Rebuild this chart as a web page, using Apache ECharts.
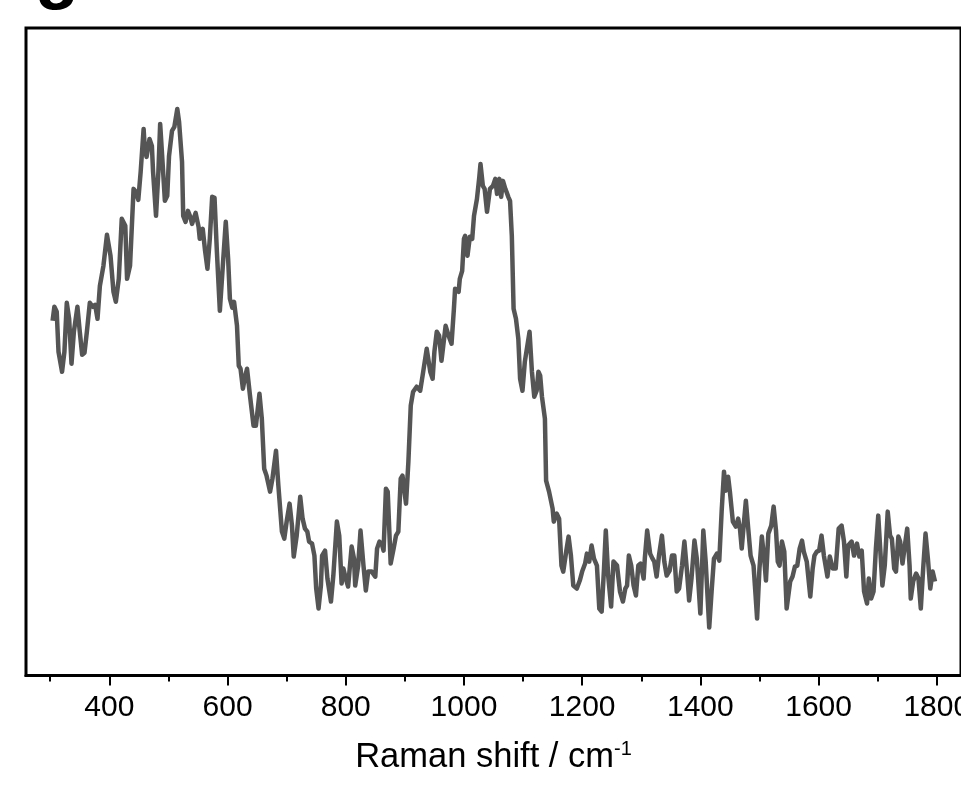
<!DOCTYPE html>
<html>
<head>
<meta charset="utf-8">
<script src="https://cdn.jsdelivr.net/npm/echarts@6/dist/echarts.min.js"></script>
<style>
html,body{margin:0;padding:0;background:#fff;}
#chart{width:961px;height:792px;}
</style>
</head>
<body>
<div id="chart"></div>
<script>
// Raman shift (cm-1)
var ramanShift = [
304,307,311,314,320,324,328,332,336,340,
346,350,354,358,362,367,372,376,380,384,
390,396,399,402,407,411,416,421,427,430,
435,441,445,449,453,458,460,463,468,472,
474,479,483,486,490,494,498,501,506,510,
515,518,523,525,529,533,537,540,546,551,
553,558,562,566,570,574,578,582,587,592,
597,601,604,608,611,616,619,622,626,630,
633,638,644,648,654,658,662,666,672,676,
682,686,692,696,700,705,709,712,717,723,
727,731,735,738,743,747,750,754,758,760,
765,769,775,779,785,789,793,796,800,804,
810,814,816,821,825,830,834,838,844,850,
853,857,861,864,868,871,876,881,885,889,
893,896,902,906,910,914,920,926,930,937,
943,947,950,954,958,962,965,969,974,979,
983,985,991,993,997,1000,1002,1006,1010,1014,
1017,1022,1026,1028,1032,1035,1039,1042,1044,1049,
1053,1056,1060,1063,1066,1070,1072,1075,1078,1081,
1084,1088,1092,1095,1099,1103,1111,1115,1119,1123,
1126,1129,1132,1137,1139,1144,1150,1152,1157,1161,
1165,1168,1173,1177,1181,1185,1191,1196,1200,1205,
1208,1212,1216,1220,1225,1229,1233,1237,1240,1244,
1249,1253,1259,1264,1269,1273,1276,1279,1283,1287,
1291,1295,1299,1304,1306,1310,1315,1319,1322,1326,
1330,1335,1339,1343,1348,1352,1356,1360,1364,1369,
1373,1377,1381,1385,1390,1394,1400,1405,1409,1415,
1419,1423,1428,1432,1436,1440,1443,1447,1450,1455,
1460,1464,1467,1470,1474,1477,1481,1485,1490,1493,
1496,1500,1504,1508,1511,1515,1520,1524,1528,1531,
1534,1538,1542,1546,1552,1556,1560,1564,1568,1572,
1575,1580,1586,1590,1593,1597,1601,1605,1609,1615,
1619,1624,1629,1634,1639,1643,1647,1650,1656,1660,
1665,1669,1673,1677,1682,1685,1689,1693,1697,1701,
1704,1708,1712,1717,1721,1724,1728,1731,1735,1738,
1742,1746,1750,1754,1756,1760,1765,1769,1773,1777,
1781,1785,1789,1793,1797
];
// Intensity (a.u.)
var intensity = [
355,369,364,324,304,324,373,357,312,344,
369,344,321,323,344,373,369,371,357,390,
410,441,442,420,384,374,397,457,450,397,
410,487,484,476,504,547,527,519,537,530,
504,460,504,552,514,475,480,520,545,549,
567,554,514,460,454,465,459,452,463,449,
437,447,425,407,437,479,478,424,365,410,
454,417,377,368,374,350,310,307,287,300,
307,280,250,250,282,257,207,200,184,197,
225,190,144,137,154,172,150,119,140,179,
157,147,144,134,132,120,87,67,90,120,
125,97,74,100,154,140,92,107,97,89,
129,117,90,110,145,110,85,104,104,99,
127,134,132,125,187,184,112,127,140,144,
197,200,172,214,270,284,289,285,300,327,
304,297,324,344,340,315,330,350,340,332,
367,387,384,397,405,437,440,420,439,437,
460,477,499,512,490,487,464,462,487,490,
497,482,497,479,495,487,484,479,475,440,
367,357,337,297,285,314,344,304,279,285,
304,300,279,257,195,184,167,154,162,157,
110,104,124,139,120,90,87,95,104,112,
122,114,130,117,110,67,64,107,145,100,
69,114,110,84,74,87,90,120,110,90,
80,110,112,97,117,145,122,117,114,99,
120,140,114,100,105,120,120,84,87,110,
134,107,75,97,135,117,62,145,114,48,
84,117,122,115,164,204,185,199,184,154,
149,157,147,127,155,175,147,120,110,84,
57,107,139,117,95,142,150,169,145,114,
110,134,124,67,94,99,109,110,127,135,
124,114,79,107,120,124,125,140,120,99,
119,107,107,147,150,134,99,130,134,120,
132,119,125,84,72,97,77,84,127,160,
130,90,110,164,140,137,107,104,139,134,
112,130,147,110,77,94,102,97,67,107,
142,117,87,104,94
];
var majorTicks = [400, 600, 800, 1000, 1200, 1400, 1600, 1800];
var minorTicks = [300, 500, 700, 900, 1100, 1300, 1500, 1700];
var xRange = [259, 1841];
var yRange = [0, 648];

var seriesData = ramanShift.map(function (x, i) { return [x, intensity[i]]; });

var chart = echarts.init(document.getElementById('chart'), null, {renderer: 'canvas'});
var FONT = '"Liberation Sans", Arial, Helvetica, sans-serif';
chart.setOption({
  animation: false,
  backgroundColor: '#ffffff',
  grid: {
    left: 26, right: 0, top: 28, bottom: 116.5,
    outerBoundsMode: 'none', containLabel: false,
    show: true, borderColor: '#000', borderWidth: 3, backgroundColor: 'transparent'
  },
  graphic: [{
    type: 'text',
    style: {
      text: 'g', x: 57, y: -25, align: 'center', verticalAlign: 'middle',
      font: 'bold 72px ' + FONT, fill: '#000'
    }
  }],
  xAxis: [{
    type: 'value', min: xRange[0], max: xRange[1],
    splitLine: {show: false},
    axisLine: {show: true, onZero: false, lineStyle: {color: '#000', width: 3}},
    axisTick: {show: true, customValues: majorTicks, length: 10, lineStyle: {color: '#000', width: 2}},
    axisLabel: {
      show: true, customValues: majorTicks, margin: 17, color: '#000', fontSize: 30, fontFamily: FONT,
      hideOverlap: false,
      formatter: function (v) { return String(v); }
    },
    name: '{a|Raman shift / cm}{b|-1}',
    nameLocation: 'middle', nameGap: 64,
    nameTextStyle: {
      rich: {
        a: {fontSize: 34.5, fontFamily: FONT, color: '#000'},
        b: {fontSize: 20, fontFamily: FONT, color: '#000', verticalAlign: 'top'}
      }
    }
  }, {
    type: 'value', min: xRange[0], max: xRange[1], position: 'bottom',
    splitLine: {show: false},
    axisLine: {show: false},
    axisTick: {show: true, customValues: minorTicks, length: 6, lineStyle: {color: '#000', width: 2}},
    axisLabel: {show: false}
  }],
  yAxis: {
    type: 'value', min: yRange[0], max: yRange[1], show: false
  },
  series: [{
    type: 'line', xAxisIndex: 0, data: seriesData, showSymbol: false, symbol: 'none',
    lineStyle: {color: '#555555', width: 4.5, join: 'round'}
  }]
});
</script>
</body>
</html>
